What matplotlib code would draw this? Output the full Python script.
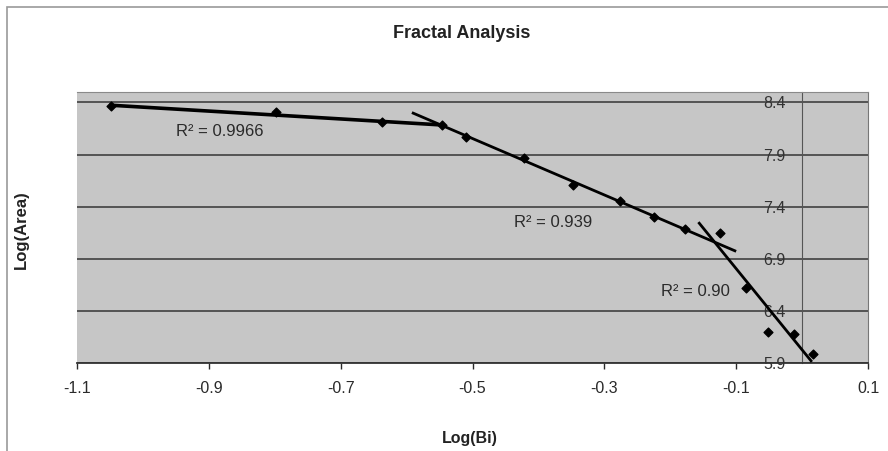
import numpy as np
import matplotlib
matplotlib.use("Agg")
import matplotlib.pyplot as plt
from matplotlib.patches import Rectangle

plt.rcParams['font.family'] = ['Liberation Sans', 'DejaVu Sans']

# data
log_bi = [-1.048, -0.798, -0.637, -0.546, -0.510, -0.422, -0.348, -0.276,
          -0.225, -0.178, -0.125, -0.085, -0.052, -0.012, 0.017]
log_area = [8.362, 8.304, 8.208, 8.179, 8.073, 7.871, 7.611, 7.458,
            7.304, 7.188, 7.150, 6.621, 6.198, 6.179, 5.987]

# which points each trendline uses, and how far it is drawn
seg_idx = [(0, 4), (3, 10), (10, 15)]
seg_span = [(-1.048, -0.546), (-0.590, -0.102), (-0.156, 0.0135)]
seg_width = [2.6, 2.0, 2.0]
r2_text = ["R² = 0.9966", "R² = 0.939", "R² = 0.90"]
r2_pos = [(-0.883, 8.12), (-0.378, 7.246), (-0.162, 6.59)]

x_ticks = [-1.1, -0.9, -0.7, -0.5, -0.3, -0.1, 0.1]
y_ticks = [5.9, 6.4, 6.9, 7.4, 7.9, 8.4]

x = np.array(log_bi)
y = np.array(log_area)

fig = plt.figure(figsize=(8.88, 4.51), dpi=100)
fig.patches.append(Rectangle((0.008, -0.01), 1.1, 0.995, transform=fig.transFigure,
                             facecolor='white', edgecolor='#9a9a9a', lw=1.2, zorder=-5))
ax = fig.add_axes([0.0867, 0.195, 0.8908, 0.601])
ax.set_facecolor('#c6c6c6')

for (a, b), (x0, x1), lw in zip(seg_idx, seg_span, seg_width):
    k, c = np.polyfit(x[a:b], y[a:b], 1)
    xs = np.array([x0, x1])
    ax.plot(xs, k * xs + c, color='black', lw=lw, zorder=3)

ax.scatter(x, y, marker='D', s=20, color='black', zorder=4)

for t, (tx, ty) in zip(r2_text, r2_pos):
    ax.text(tx, ty, t, ha='center', va='center', fontsize=12, color='#2a2a2a')

ax.set_xlim(-1.1, 0.1)
ax.set_ylim(5.9, 8.5)
ax.set_xticks(x_ticks)
ax.set_xticklabels([f"{v:.1f}" for v in x_ticks])
ax.set_yticks(y_ticks)
ax.set_yticklabels([f"{v:.1f}" for v in y_ticks])
ax.yaxis.grid(True, color='#4a4a4a', lw=1.3)
ax.set_axisbelow(True)

ax.spines['left'].set_position(('data', 0))
ax.spines['left'].set_color('#555555')
ax.spines['bottom'].set_color('#333333')
ax.spines['bottom'].set_linewidth(1.3)
ax.spines['top'].set_color('#8a8a8a')
ax.spines['right'].set_color('#777777')
ax.tick_params(axis='x', direction='out', length=4, width=1, pad=9,
               labelsize=11.5, colors='#2a2a2a')
ax.tick_params(axis='y', length=0, pad=12, labelsize=11.5, colors='#333333')

fig.text(0.52, 0.925, "Fractal Analysis", ha='center', va='center',
         fontsize=13, fontweight='bold', color='#222222')
fig.text(0.529, 0.028, "Log(Bi)", ha='center', va='center',
         fontsize=11.5, fontweight='bold', color='#222222')
fig.text(0.024, 0.49, "Log(Area)", ha='center', va='center', rotation=90,
         fontsize=12, fontweight='bold', color='#222222')

fig.savefig("out.png", dpi=100)
